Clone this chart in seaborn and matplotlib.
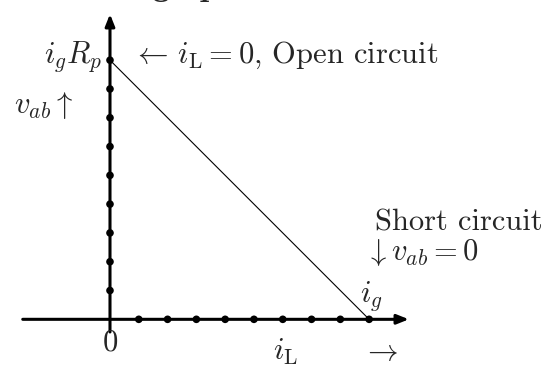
import matplotlib
matplotlib.use("Agg")
import matplotlib.pyplot as plt
import seaborn as sns
import pandas as pd

# dots along the two axes (unit steps)
v_steps = [1, 2, 3, 4, 5, 6, 7, 8, 9]
i_steps = [1, 2, 3, 4, 5, 6, 7, 8, 9]
# load line: open circuit (i_L = 0) to short circuit (v_ab = 0)
load_i = [0, 9]
load_v = [9, 0]

sns.set_theme(style="white")
plt.rcParams["font.family"] = ["cmr10"]
plt.rcParams["mathtext.fontset"] = "cm"
plt.rcParams["axes.unicode_minus"] = False

fig = plt.figure(figsize=(5.56, 3.71), dpi=100)
ax = fig.add_axes([0, 0, 1, 1])
ax.set_xlim(-3.82, 15.49)
ax.set_ylim(-1.795, 11.09)
ax.axis("off")

arrow = dict(arrowstyle="-|>,head_length=0.5,head_width=0.2", lw=2.2,
             color="black", mutation_scale=14, shrinkA=0, shrinkB=0)
ax.annotate("", xy=(10.38, 0), xytext=(-3.03, 0), arrowprops=arrow)
ax.annotate("", xy=(0, 10.6), xytext=(0, -0.44), arrowprops=arrow)

sns.lineplot(x=load_i, y=load_v, color="black", linewidth=0.8, ax=ax)

dots = pd.DataFrame({
    "x": [0] * len(v_steps) + i_steps,
    "y": v_steps + [0] * len(i_steps),
})
sns.scatterplot(data=dots, x="x", y="y", color="black", s=30,
                edgecolor="none", zorder=5, ax=ax)

fs = 22
ax.text(-0.25, 8.9, r"$i_gR_p$", ha="right", va="baseline", fontsize=fs)
ax.text(0.76, 8.9, r"$\leftarrow\, i_{\mathrm{L}} = 0$, Open circuit",
        ha="left", va="baseline", fontsize=fs)
ax.text(-3.33, 7.16, r"$v_{ab}\uparrow$", ha="left", va="baseline", fontsize=fs)
ax.text(9.2, 3.1, "Short circuit", ha="left", va="baseline", fontsize=fs)
ax.text(8.85, 2.06, r"$\downarrow v_{ab} = 0$", ha="left", va="baseline",
        fontsize=fs)
ax.text(8.68, 0.6, r"$i_g$", ha="left", va="baseline", fontsize=fs)
ax.text(0, -1.07, "0", ha="center", va="baseline", fontsize=fs)
ax.text(5.66, -1.42, r"$i_{\mathrm{L}}$", ha="left", va="baseline", fontsize=fs)
ax.text(8.75, -1.42, r"$\rightarrow$", ha="left", va="baseline",
        fontsize=fs)
# title sits mostly above the picture; only the descenders show
ax.text(4.41, 11.22, "Load line graph", ha="right", va="baseline",
        fontsize=24, fontfamily="cmb10")

fig.savefig("out.png", dpi=100)
